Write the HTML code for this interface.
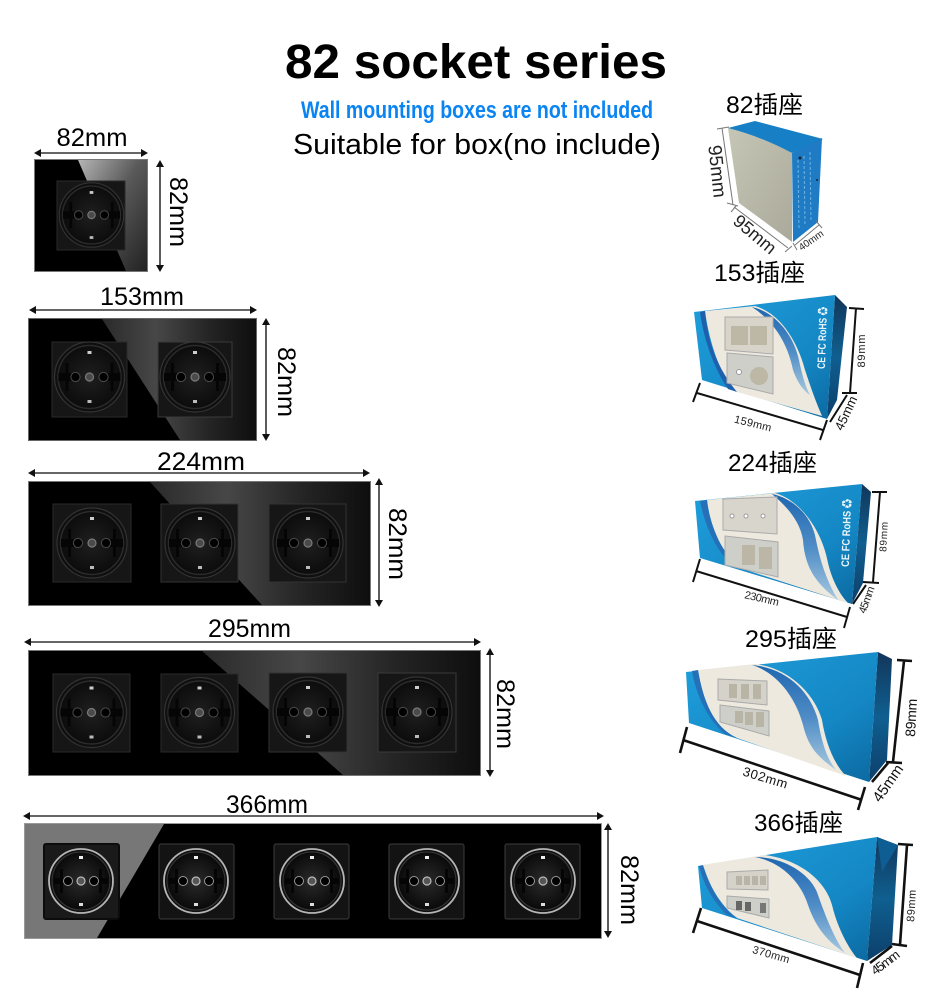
<!DOCTYPE html>
<html><head><meta charset="utf-8"><style>
html,body{margin:0;padding:0;background:#fff}
svg{display:block}
text{font-family:"Liberation Sans","Noto Sans CJK SC",sans-serif;fill:#000}
.d{font-size:25px;text-anchor:middle}
.c{font-size:24px;text-anchor:middle;font-family:"Liberation Sans","Noto Sans CJK SC",sans-serif}
.l{stroke:#333;stroke-width:1.6;fill:none}
.k{stroke:#111;stroke-width:2;fill:none}
.k2{stroke:#111;stroke-width:2.6;fill:none}
.g{stroke:#777;stroke-width:1;fill:none}
.t{font-size:11px;text-anchor:middle;fill:#222}
.b{font-size:13px;text-anchor:middle;fill:#111}
.w{font-size:11px;font-weight:700;text-anchor:middle;fill:#e8f4fb}
</style></head><body>
<svg width="944" height="998" viewBox="0 0 944 998" xmlns="http://www.w3.org/2000/svg">
<defs>
<radialGradient id="sf"><stop offset="0" stop-color="#1f1f1f"/><stop offset="1" stop-color="#0c0c0c"/></radialGradient>
<radialGradient id="sf2"><stop offset="0" stop-color="#2a2a2a"/><stop offset="1" stop-color="#0a0a0a"/></radialGradient>
<linearGradient id="g1" x1="0" y1="0" x2="1" y2="1"><stop offset="0" stop-color="#b5b5b5"/><stop offset=".45" stop-color="#5a5a5a"/><stop offset="1" stop-color="#222"/></linearGradient>
<linearGradient id="g2" x1="0" y1="0" x2="1" y2="0"><stop offset="0" stop-color="#2a2a2a"/><stop offset=".35" stop-color="#474747"/><stop offset=".7" stop-color="#242424"/><stop offset="1" stop-color="#0e0e0e"/></linearGradient>
<linearGradient id="blue" x1="0" y1="0" x2="1" y2="1"><stop offset="0" stop-color="#1f9fdc"/><stop offset=".65" stop-color="#1487c4"/><stop offset="1" stop-color="#0c689f"/></linearGradient>
<linearGradient id="navy" x1="0" y1="0" x2="0" y2="1"><stop offset="0" stop-color="#12365a"/><stop offset=".5" stop-color="#0f5f90"/><stop offset="1" stop-color="#0d3f6b"/></linearGradient>
<linearGradient id="wv" x1="0" y1="0" x2="0" y2="1"><stop offset="0" stop-color="#1f66b0"/><stop offset=".5" stop-color="#4e8cc6"/><stop offset="1" stop-color="#a6c8df"/></linearGradient>
<linearGradient id="fr" x1="0" y1="0" x2="1" y2="1"><stop offset="0" stop-color="#c6c6b6"/><stop offset="1" stop-color="#aaa99a"/></linearGradient>
<g id="s">
<circle r="35" fill="#0f0f0f" stroke="#333" stroke-width="1.2"/>
<circle r="31.500" fill="url(#sf)" stroke="#2b2b2b" stroke-width="1.5"/>
<path d="M-31 -4 h7 v-10 h3 v10 h3 v8 h-3 v10 h-3 v-10 h-7z M31 -4 h-7 v-10 h-3 v10 h-3 v8 h3 v10 h3 v-10 h7z" fill="#050505"/>
<circle cx="-14" r="4.6" fill="#000" stroke="#4a4a4a" stroke-width="1"/>
<circle cx="14" r="4.6" fill="#000" stroke="#4a4a4a" stroke-width="1"/>
<circle r="4" fill="#4a4a4a" stroke="#7a7a7a" stroke-width="1.2"/>
<rect x="-2" y="-26" width="4" height="3" fill="#ccc"/>
<rect x="-2" y="23" width="4" height="3" fill="#bbb"/>
</g>
<g id="r">
<circle r="32" fill="#111" stroke="#b5b5b5" stroke-width="1.8"/>
<circle r="29" fill="url(#sf2)" stroke="#3a3a3a" stroke-width="1"/>
<path d="M-27 -3 h6 v-9 h3 v9 h2 v6 h-2 v9 h-3 v-9 h-6z M27 -3 h-6 v-9 h-3 v9 h-2 v6 h2 v9 h3 v-9 h6z" fill="#050505"/>
<circle cx="-13" r="4.5" fill="#000" stroke="#999" stroke-width="1"/>
<circle cx="13" r="4.500" fill="#000" stroke="#999" stroke-width="1"/>
<circle r="4" fill="#555" stroke="#bbb" stroke-width="1.2"/>
<rect x="-2" y="-25" width="4" height="3" fill="#eee"/>
<rect x="-2" y="22" width="4" height="3" fill="#ddd"/>
</g>
<path id="ah" d="M0 0 L7 -4 V4Z" fill="#111"/>
</defs>

<text x="476" y="78" font-size="48" font-weight="700" text-anchor="middle" textLength="382" lengthAdjust="spacingAndGlyphs">82 socket series</text>
<text x="477" y="118" font-size="24" font-weight="700" text-anchor="middle" textLength="352" lengthAdjust="spacingAndGlyphs" style="fill:#0a84f2">Wall mounting boxes are not included</text>
<text x="477" y="154" font-size="29" text-anchor="middle" textLength="368" lengthAdjust="spacingAndGlyphs">Suitable for box(no include)</text>

<!-- panel 1 -->
<rect x="34.5" y="159.5" width="113" height="112" fill="#000" stroke="#777"/>
<path d="M78 160 H147 V271 H126Z" fill="url(#g1)"/>
<rect x="57" y="181" width="68" height="69" fill="#161616" stroke="#2a2a2a"/>
<use href="#s" transform="translate(91.5 215) scale(.92)"/>
<text class="d" x="92" y="146" textLength="71" lengthAdjust="spacingAndGlyphs">82mm</text>
<path class="l" d="M36 153 H146"/><use href="#ah" transform="translate(34 153)"/><use href="#ah" transform="translate(148 153) rotate(180)"/>
<path class="l" d="M160 162 V270"/><use href="#ah" transform="translate(160 160) rotate(90)"/><use href="#ah" transform="translate(160 272) rotate(-90)"/>
<text class="d" transform="translate(170 212) rotate(90)" textLength="70" lengthAdjust="spacingAndGlyphs">82mm</text>

<!-- panel 2 -->
<rect x="28.5" y="318.5" width="228" height="122" fill="#000" stroke="#666"/>
<path d="M102 319 H256 V440 H180Z" fill="url(#g2)"/>
<rect x="52" y="342" width="75" height="75" fill="#161616" stroke="#2a2a2a"/>
<rect x="158" y="342" width="74" height="75" fill="#161616" stroke="#3a3a3a"/>
<use href="#s" transform="translate(89.5 377)"/><use href="#s" transform="translate(195 377)"/>
<text class="d" x="142" y="305" textLength="84" lengthAdjust="spacingAndGlyphs">153mm</text>
<path class="l" d="M31 310 H255"/><use href="#ah" transform="translate(29 310)"/><use href="#ah" transform="translate(257 310) rotate(180)"/>
<path class="l" d="M266 320 V439"/><use href="#ah" transform="translate(266 318) rotate(90)"/><use href="#ah" transform="translate(266 441) rotate(-90)"/>
<text class="d" transform="translate(278 382) rotate(90)" textLength="70" lengthAdjust="spacingAndGlyphs">82mm</text>

<!-- panel 3 -->
<rect x="28.5" y="481.5" width="342" height="124" fill="#000" stroke="#777"/>
<path d="M150 482 H370 V605 H262Z" fill="url(#g2)"/>
<rect x="53" y="504" width="78" height="78" fill="#161616" stroke="#2a2a2a"/>
<rect x="161" y="504" width="77" height="78" fill="#161616" stroke="#333"/>
<rect x="269" y="504" width="77" height="78" fill="#161616" stroke="#333"/>
<use href="#s" transform="translate(92 543)"/><use href="#s" transform="translate(200 543)"/><use href="#s" transform="translate(308 543)"/>
<text class="d" x="201" y="470" textLength="88" lengthAdjust="spacingAndGlyphs">224mm</text>
<path class="l" d="M30 473 H368"/><use href="#ah" transform="translate(28 473)"/><use href="#ah" transform="translate(370 473) rotate(180)"/>
<path class="l" d="M379 480 V605"/><use href="#ah" transform="translate(379 478) rotate(90)"/><use href="#ah" transform="translate(379 607) rotate(-90)"/>
<text class="d" transform="translate(389 544) rotate(90)" textLength="72" lengthAdjust="spacingAndGlyphs">82mm</text>

<!-- panel 4 -->
<rect x="28.5" y="650.5" width="452" height="125" fill="#000" stroke="#777"/>
<path d="M202 651 H480 V775 H343Z" fill="url(#g2)"/>
<rect x="53" y="674" width="77" height="78" fill="#161616" stroke="#2a2a2a"/>
<rect x="161" y="674" width="77" height="78" fill="#161616" stroke="#2a2a2a"/>
<rect x="269" y="673" width="78" height="79" fill="#161616" stroke="#333"/>
<rect x="378" y="673" width="78" height="79" fill="#161616" stroke="#3a3a3a"/>
<use href="#s" transform="translate(91.5 712.5)"/><use href="#s" transform="translate(199.5 712.5)"/><use href="#s" transform="translate(308 712)"/><use href="#s" transform="translate(417 712)"/>
<text class="d" x="249.500" y="637" textLength="83" lengthAdjust="spacingAndGlyphs">295mm</text>
<path class="l" d="M26 642 H479"/><use href="#ah" transform="translate(24 642)"/><use href="#ah" transform="translate(481 642) rotate(180)"/>
<path class="l" d="M490 650 V775"/><use href="#ah" transform="translate(490 648) rotate(90)"/><use href="#ah" transform="translate(490 777) rotate(-90)"/>
<text class="d" transform="translate(497 714) rotate(90)" textLength="70" lengthAdjust="spacingAndGlyphs">82mm</text>

<!-- panel 5 -->
<rect x="24.500" y="823.5" width="577" height="115" fill="#000" stroke="#999"/>
<path d="M25 824 H164 L97 938 H25Z" fill="#777"/>
<rect x="44" y="844" width="75" height="75" rx="2" fill="#1a1a1a" stroke="#0c0c0c" stroke-width="2"/>
<rect x="159" y="844" width="75" height="75" rx="2" fill="#131313" stroke="#3c3c3c"/>
<rect x="274" y="844" width="75" height="75" rx="2" fill="#131313" stroke="#3c3c3c"/>
<rect x="389" y="844" width="75" height="75" rx="2" fill="#131313" stroke="#3c3c3c"/>
<rect x="505" y="844" width="75" height="75" rx="2" fill="#131313" stroke="#3c3c3c"/>
<use href="#r" transform="translate(81 881)"/><use href="#r" transform="translate(196 881)"/><use href="#r" transform="translate(312 881)"/><use href="#r" transform="translate(427 881)"/><use href="#r" transform="translate(543 881)"/>
<text class="d" x="267" y="813" textLength="82" lengthAdjust="spacingAndGlyphs">366mm</text>
<path class="l" d="M25 816 H602"/><use href="#ah" transform="translate(23 816)"/><use href="#ah" transform="translate(604 816) rotate(180)"/>
<path class="l" d="M608 825 V936"/><use href="#ah" transform="translate(608 823) rotate(90)"/><use href="#ah" transform="translate(608 938) rotate(-90)"/>
<text class="d" transform="translate(621 890) rotate(90)" textLength="70" lengthAdjust="spacingAndGlyphs">82mm</text>

<!-- box labels -->
<text class="c" x="764.500" y="113" textLength="77" lengthAdjust="spacingAndGlyphs">82插座</text>
<text class="c" x="759.500" y="281" textLength="91" lengthAdjust="spacingAndGlyphs">153插座</text>
<text class="c" x="772.500" y="471" textLength="89" lengthAdjust="spacingAndGlyphs">224插座</text>
<text class="c" x="791" y="647" textLength="92" lengthAdjust="spacingAndGlyphs">295插座</text>
<text class="c" x="798.500" y="831" textLength="89" lengthAdjust="spacingAndGlyphs">366插座</text>

<!-- box 1 -->
<path d="M728 128 L755 121 L823 139 L792 153Z" fill="#177fc6"/>
<path d="M728 128 Q760 136 792 153 V242 L739 203Z" fill="url(#fr)"/>
<path d="M792 153 L822 138 L818 222 L793 242Z" fill="#1f7cc4"/>
<path d="M798 160 L799 230 M804 156 L805 226 M810 152 L811 222" stroke="#6fb2e0" stroke-width="1" stroke-dasharray="3 2" fill="none"/>
<circle cx="800" cy="158" r="1.500" fill="#123"/><circle cx="817" cy="180" r="1" fill="#123"/>
<path class="g" d="M722 128 L733 205 M717 129 L729 127 M727 203 L738 206 M734 207 L788 248 M731 212 L736 206 M785 252 L792 246 M795 245 L819 225 M793 243 L797 250 M816 221 L822 228"/>
<text style="font-size:19px;text-anchor:middle;fill:#222" transform="translate(711 172) rotate(84)">95mm</text>
<text style="font-size:18px;text-anchor:middle;fill:#222" transform="translate(751 239) rotate(40)">95mm</text>
<text style="font-size:10px;text-anchor:middle;fill:#222" transform="translate(813 243) rotate(-35)">40mm</text>

<!-- box 2 -->
<path d="M835 295 L847 307 L837 400 L827 419Z" fill="url(#navy)"/>
<path d="M694 312 L835 295 L827 419 L702 380Z" fill="url(#blue)"/>
<path d="M705 311 L755 306 C785 315 800 350 805 370 C810 385 815 400 822 416 L737 392 C717 373 708 333 705 311Z" fill="#eee9df"/>
<path d="M700 312 L705 311 C708 340 715 365 737 392 L728 389 C712 365 703 335 700 312Z" fill="#1f60ad"/>
<path d="M752 307 C775 312 795 335 800 365 C803 378 806 388 810 395 C800 388 796 378 793 370 C788 345 775 322 752 307Z" fill="url(#wv)"/>
<path d="M725 317 L773 317 L773 354 L725 350Z" fill="#d8d4c9" stroke="#aaa"/>
<path d="M727 353 L773 357 L773 394 L727 383Z" fill="#cfcfca" stroke="#aaa"/>
<rect x="731" y="326" width="17" height="19" fill="#bdb7a5"/><rect x="750" y="326" width="17" height="19" fill="#bdb7a5"/><circle cx="759" cy="376" r="9" fill="#bdb7a5"/><circle cx="739" cy="372" r="2.5" fill="#fff" stroke="#999"/>
<text class="w" transform="translate(826 338) rotate(-88)" textLength="62" lengthAdjust="spacingAndGlyphs">CE FC RoHS ♻</text>
<path class="k" d="M697 393 L823 430 M700 383 L693 402 M827 420 L820 440 M856 308 L850 393 M849 308 L864 309 M842 393 L857 393 M830 422 L847 395"/>
<text class="t" transform="translate(752 427) rotate(14)" textLength="38" lengthAdjust="spacing">159mm</text>
<text class="t" transform="translate(865 351) rotate(-90)" textLength="33" lengthAdjust="spacing">89mm</text>
<text class="b" transform="translate(850 415) rotate(-65)" textLength="36" lengthAdjust="spacing">45mm</text>

<!-- box 3 -->
<path d="M862 484 L871 492 L863 583 L852 604Z" fill="url(#navy)"/>
<path d="M695 501 L862 484 L852 604 L700 558Z" fill="url(#blue)"/>
<path d="M707 500 L775 493 C800 500 822 530 828 563 C832 580 840 595 848 603 L743 569 C723 557 710 527 707 500Z" fill="#eee9df"/>
<path d="M700 501 L707 500 C710 527 723 557 743 569 L733 566 C715 550 705 525 700 501Z" fill="#2670b8"/>
<path d="M772 494 C792 498 812 515 816 540 C820 560 826 580 838 600 C818 585 805 570 803 540 C800 520 785 505 772 494Z" fill="url(#wv)"/>
<path d="M723 499 L777 497 V534 L723 530Z" fill="#d8d5cc" stroke="#aaa"/>
<path d="M725 536 L778 542 V577 L725 565Z" fill="#cfcfc9" stroke="#aaa"/>
<rect x="742" y="545" width="13" height="20" fill="#bbb6a6"/><rect x="759" y="547" width="13" height="22" fill="#bbb6a6"/>
<circle cx="732" cy="516" r="2" fill="#fff" stroke="#999"/><circle cx="746" cy="516" r="2" fill="#fff" stroke="#999"/><circle cx="763" cy="516" r="2" fill="#fff" stroke="#999"/>
<text class="w" transform="translate(850 533) rotate(-88)" textLength="68" lengthAdjust="spacingAndGlyphs">CE FC RoHS ♻</text>
<path class="k" d="M696 571 L847 617 M700 559 L693 582 M850 607 L844 628 M880 492 L873 582 M872 492 L887 492 M863 582 L879 583 M853 604 L866 585"/>
<text class="t" transform="translate(761 602) rotate(13)" textLength="35" lengthAdjust="spacing">230mm</text>
<text class="t" transform="translate(887 537) rotate(-87)" style="font-size:10px" textLength="30" lengthAdjust="spacing">89mm</text>
<text class="t" transform="translate(870 601) rotate(-70)" style="font-size:11px" textLength="28" lengthAdjust="spacing">45mm</text>

<!-- box 4 -->
<path d="M878 652 L892 659 L887 760 L869 782Z" fill="url(#navy)"/>
<path d="M686 672 L878 652 L869 782 L689 723Z" fill="url(#blue)"/>
<path d="M698 670 L755 664 C790 668 815 695 822 720 C826 745 835 765 846 776 L737 738 C713 727 703 700 698 670Z" fill="#eee9df"/>
<path d="M692 671 L698 670 C703 700 713 727 737 738 L725 734 C708 720 696 695 692 671Z" fill="#2670b8"/>
<path d="M752 665 C785 668 810 690 818 720 C822 745 828 760 836 770 C815 755 808 745 803 725 C795 695 775 672 752 665Z" fill="url(#wv)"/>
<path d="M718 679 L767 681 V705 L718 700Z" fill="#d4d2c9" stroke="#aaa"/>
<path d="M720 705 L769 711 V736 L720 722Z" fill="#cfcfc9" stroke="#aaa"/>
<rect x="729" y="684" width="8" height="14" fill="#b9b5a6"/><rect x="741" y="684" width="8" height="15" fill="#b9b5a6"/><rect x="753" y="684" width="8" height="15" fill="#b9b5a6"/>
<rect x="735" y="711" width="8" height="12" fill="#b9b5a6"/><rect x="745" y="712" width="8" height="13" fill="#b9b5a6"/><rect x="756" y="712" width="8" height="15" fill="#b9b5a6"/>
<path class="k2" d="M683 740 L862 800 M687 727 L680 753 M865 787 L858 810 M904 661 L893 762 M897 660 L912 661 M886 762 L902 763 M872 782 L888 763"/>
<text class="b" transform="translate(764 782) rotate(17)" textLength="46" lengthAdjust="spacing">302mm</text>
<text class="b" transform="translate(916 718) rotate(-87)" style="font-size:14px" textLength="38" lengthAdjust="spacing">89mm</text>
<text style="font-size:15px;text-anchor:middle;fill:#111" transform="translate(892 786) rotate(-55)">45mm</text>

<!-- box 5 -->
<path d="M877 837 L898 845 L892 945 L867 961Z" fill="url(#navy)"/>
<path d="M877 837 L898 845 L882 872Z" fill="#0e5d93"/>
<path d="M698 866 L877 837 L867 961 L702 908Z" fill="url(#blue)"/>
<path d="M702 865 L765 855 C800 860 825 880 832 905 C838 930 850 950 857 958 L737 918 C717 903 708 880 702 865Z" fill="#eee9df"/>
<path d="M699 866 L703 865 C708 880 717 905 737 918 L727 915 C712 900 704 885 699 866Z" fill="#2670b8"/>
<path d="M755 857 C785 857 812 875 818 895 C825 915 835 940 845 953 C825 940 815 925 808 905 C800 880 780 862 755 857Z" fill="url(#wv)"/>
<path d="M727 872 L768 870 V890 L727 889Z" fill="#d4d2c9" stroke="#aaa"/>
<path d="M727 896 L769 899 V918 L727 908Z" fill="#cfcfc9" stroke="#aaa"/>
<rect x="736" y="876" width="6" height="9" fill="#b9b5a6"/><rect x="744" y="876" width="6" height="9" fill="#b9b5a6"/><rect x="752" y="876" width="6" height="9" fill="#b9b5a6"/><rect x="760" y="876" width="6" height="9" fill="#b9b5a6"/>
<rect x="736" y="901" width="6" height="9" fill="#666"/><rect x="745" y="902" width="6" height="9" fill="#666"/><rect x="760" y="903" width="6" height="10" fill="#777"/>
<path class="k2" d="M697 921 L860 975 M701 908 L693 933 M863 963 L857 988 M907 845 L900 945 M898 844 L913 845 M892 944 L907 946 M870 963 L892 946"/>
<text class="t" transform="translate(770 958) rotate(16)" textLength="38" lengthAdjust="spacing">370mm</text>
<text class="t" transform="translate(915 906) rotate(-87)" textLength="32" lengthAdjust="spacing">89mm</text>
<text class="b" transform="translate(888 966) rotate(-37)" textLength="32" lengthAdjust="spacing">45mm</text>
</svg>
</body></html>
